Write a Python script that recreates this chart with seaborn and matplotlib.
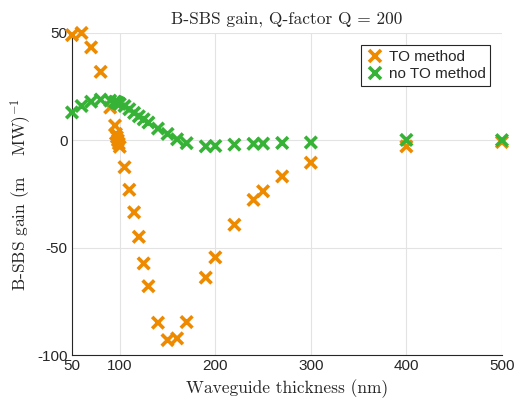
import numpy as np
import pandas as pd
import matplotlib
matplotlib.use("Agg")
import matplotlib.pyplot as plt
import seaborn as sns

# waveguide thickness (nm) and B-SBS gain values
thick_to = [50, 60, 70, 80, 90, 95, 96, 97, 98, 99, 100, 105, 110, 115, 120, 125, 130,
            140, 150, 160, 170, 190, 200, 220, 240, 250, 270, 300, 400, 500]
gain_to = [49, 50, 43.3, 31.9, 15.3, 6.9, 3, 1.5, 0, -1.5, -3, -12.5, -23, -33.5, -44.9,
           -57.3, -67.9, -84.9, -93, -92.2, -84.6, -63.9, -54.5, -39.3, -27.7, -23.7,
           -16.8, -10.4, -2.8, -0.8]

thick_no = [50, 60, 70, 80, 90, 95, 96, 97, 98, 99, 100, 105, 110, 115, 120, 125, 130,
            140, 150, 160, 170, 190, 200, 220, 240, 250, 270, 300, 400, 500]
gain_no = [13, 16, 18, 19, 18.5, 18, 17.8, 17.6, 17.4, 17.2, 17, 16, 14.5, 12.8, 11.2,
           9.8, 8.3, 5.5, 3.0, 0.5, -1.3, -2.8, -2.6, -2.0, -1.6, -1.5, -1.2, -1.0, 0.2, 0.1]

methods = ["TO method", "no TO method"]

df = pd.concat([
    pd.DataFrame({"thickness": thick_to, "gain": gain_to, "method": methods[0]}),
    pd.DataFrame({"thickness": thick_no, "gain": gain_no, "method": methods[1]}),
])

sns.set_style("whitegrid")
plt.rcParams["font.family"] = ["Liberation Sans", "DejaVu Sans"]
plt.rcParams["mathtext.fontset"] = "cm"
plt.rcParams["axes.unicode_minus"] = False

fig, ax = plt.subplots(figsize=(5.18, 4.12), dpi=100)
fig.subplots_adjust(left=0.139, right=0.969, top=0.92, bottom=0.138)

sns.scatterplot(data=df, x="thickness", y="gain", hue="method", hue_order=methods,
                palette=["#EE8A00", "#36B336"], marker="x", s=70, linewidth=2.6,
                ax=ax, zorder=3, clip_on=False)

ax.set_xlim(50, 500)
ax.set_ylim(-100, 50)
ax.set_xticks([50, 100, 200, 300, 400, 500])
ax.set_yticks([-100, -50, 0, 50])
ax.tick_params(axis="both", labelsize=11, colors="#262626", direction="in", length=4,
               width=0.8, pad=3)
ax.grid(True, color="#e3e3e3", linewidth=0.8)
for side in ["top", "right"]:
    ax.spines[side].set_visible(False)
for side in ["left", "bottom"]:
    ax.spines[side].set_color("#262626")
    ax.spines[side].set_linewidth(0.8)

serif = ["cmr10", "DejaVu Serif"]
ax.set_title("B-SBS gain, Q-factor Q = 200", fontsize=12.5, family=serif, pad=7)
ax.set_xlabel("Waveguide thickness (nm)", fontsize=12.5, family=serif, color="#262626")
ax.set_ylabel(r"B-SBS gain (m $\quad$MW)$^{-1}$", fontsize=12.5, family=serif,
              color="#262626", labelpad=3)

leg = ax.legend(loc="upper right", bbox_to_anchor=(0.99, 0.985), fontsize=11,
                frameon=True, fancybox=False, edgecolor="#262626", framealpha=1,
                handletextpad=0.3, borderpad=0.3, labelspacing=0.2, handlelength=1.2)
leg.get_frame().set_linewidth(0.8)

fig.savefig("out.png", dpi=100)
